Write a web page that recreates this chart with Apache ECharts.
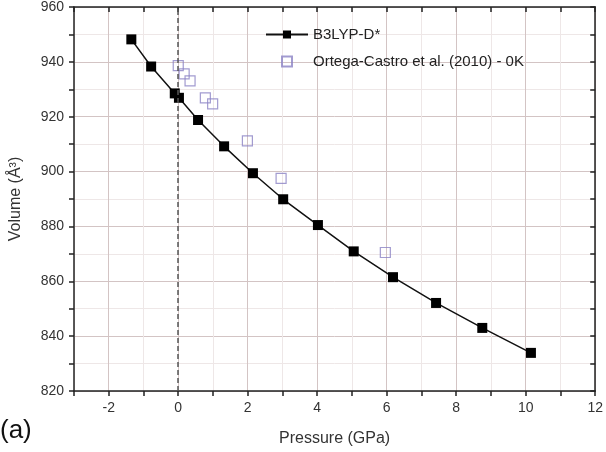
<!DOCTYPE html>
<html>
<head>
<meta charset="utf-8">
<script src="https://cdn.jsdelivr.net/npm/echarts@6/dist/echarts.min.js"></script>
<style>
  html, body { margin: 0; padding: 0; background: #fff; }
  #main { width: 606px; height: 452px; }
</style>
</head>
<body>
<div id="main"></div>
<script>
// B3LYP-D* calculation
var calcP = [-1.35, -0.78, -0.1, 0.02, 0.57, 1.32, 2.15, 3.02, 4.02, 5.05, 6.18, 7.42, 8.75, 10.15];
var calcV = [948.2, 938.3, 928.5, 926.9, 918.8, 909.2, 899.4, 889.9, 880.5, 870.9, 861.5, 852.1, 843.0, 833.9];

// Ortega-Castro et al. (2010) - 0K
var refP = [0.0, 0.17, 0.34, 0.78, 0.99, 1.99, 2.96, 5.96];
var refV = [938.6, 935.6, 933.1, 926.9, 924.7, 911.2, 897.5, 870.5];

var xTicks = [-2, 0, 2, 4, 6, 8, 10, 12];

function pairs(xs, ys) {
    var out = [];
    for (var i = 0; i < xs.length; i++) {
        out.push([xs[i], ys[i]]);
    }
    return out;
}

function DrawChart() {
    var chart = echarts.init(document.getElementById('main'));

    var font = 'Liberation Sans, Arial, sans-serif';
    var majorGrid = '#d3c4c4';
    var minorGrid = '#eee7e7';

    option = {
        animation: false,
        backgroundColor: '#fff',
        grid: {
            left: 72,
            right: 9,
            top: 7,
            bottom: 60
        },
        legend: {
            left: 260,
            top: 22,
            orient: 'vertical',
            itemGap: 12,
            itemWidth: 42,
            itemHeight: 10,
            symbolKeepAspect: true,
            textStyle: { fontFamily: font, fontSize: 15, color: '#222' },
            data: [
                { name: 'B3LYP-D*' },
                { name: 'Ortega-Castro et al. (2010) - 0K', icon: 'path://M0,0L10,0L10,10L0,10Z' }
            ]
        },
        xAxis: [
            {
                type: 'value',
                min: -3,
                max: 12,
                interval: 1,
                name: 'Pressure (GPa)',
                nameLocation: 'middle',
                nameGap: 40,
                nameTextStyle: { fontFamily: font, fontSize: 16, color: '#333' },
                axisLine: { show: true, onZero: false, lineStyle: { color: '#222', width: 1.5 } },
                axisTick: { inside: false, length: 5, lineStyle: { color: '#222', width: 1.5 } },
                axisLabel: {
                    fontFamily: font, fontSize: 14, color: '#333', margin: 10,
                    formatter: function (v) { return xTicks.indexOf(v) >= 0 ? String(v) : ''; }
                },
                splitLine: {
                    show: true,
                    lineStyle: { color: [minorGrid, majorGrid], width: 1 }
                }
            },
            {
                type: 'value',
                position: 'top',
                min: -3,
                max: 12,
                interval: 1,
                axisLine: { show: true, onZero: false, lineStyle: { color: '#222', width: 1.5 } },
                axisTick: { inside: true, length: 5, lineStyle: { color: '#222', width: 1.5 } },
                axisLabel: { show: false },
                splitLine: { show: false }
            }
        ],
        yAxis: [
            {
                type: 'value',
                min: 820,
                max: 960,
                interval: 10,
                name: 'Volume (Å³)',
                nameLocation: 'middle',
                nameGap: 50,
                nameTextStyle: { fontFamily: font, fontSize: 16, color: '#333' },
                axisLine: { show: true, onZero: false, lineStyle: { color: '#222', width: 1.5 } },
                axisTick: { inside: false, length: 5, lineStyle: { color: '#222', width: 1.5 } },
                axisLabel: {
                    fontFamily: font, fontSize: 14, color: '#333', margin: 10,
                    formatter: function (v) { return v % 20 === 0 ? String(v) : ''; }
                },
                splitLine: {
                    show: true,
                    lineStyle: { color: [majorGrid, minorGrid], width: 1 }
                }
            },
            {
                type: 'value',
                position: 'right',
                min: 820,
                max: 960,
                interval: 10,
                axisLine: { show: true, onZero: false, lineStyle: { color: '#222', width: 1.5 } },
                axisTick: { inside: true, length: 5, lineStyle: { color: '#222', width: 1.5 } },
                axisLabel: { show: false },
                splitLine: { show: false }
            }
        ],
        graphic: [
            {
                type: 'text',
                left: 0,
                top: 418,
                style: { text: '(a)', fontFamily: font, fontSize: 26, fill: '#111' }
            }
        ],
        series: [
            {
                name: 'B3LYP-D*',
                type: 'line',
                data: pairs(calcP, calcV),
                symbol: 'rect',
                symbolSize: 10,
                itemStyle: { color: '#000' },
                lineStyle: { color: '#111', width: 1.5 },
                z: 3,
                markLine: {
                    silent: true,
                    symbol: 'none',
                    label: { show: false },
                    lineStyle: { color: '#555', type: [5, 3], width: 1.5 },
                    data: [{ xAxis: 0 }]
                }
            },
            {
                name: 'Ortega-Castro et al. (2010) - 0K',
                type: 'scatter',
                data: pairs(refP, refV),
                symbol: 'rect',
                symbolSize: 10,
                itemStyle: { color: 'rgba(0,0,0,0)', borderColor: '#8b82c4', borderWidth: 1.2 },
                z: 4
            }
        ]
    };

    chart.setOption(option);
}

DrawChart();
</script>
</body>
</html>
